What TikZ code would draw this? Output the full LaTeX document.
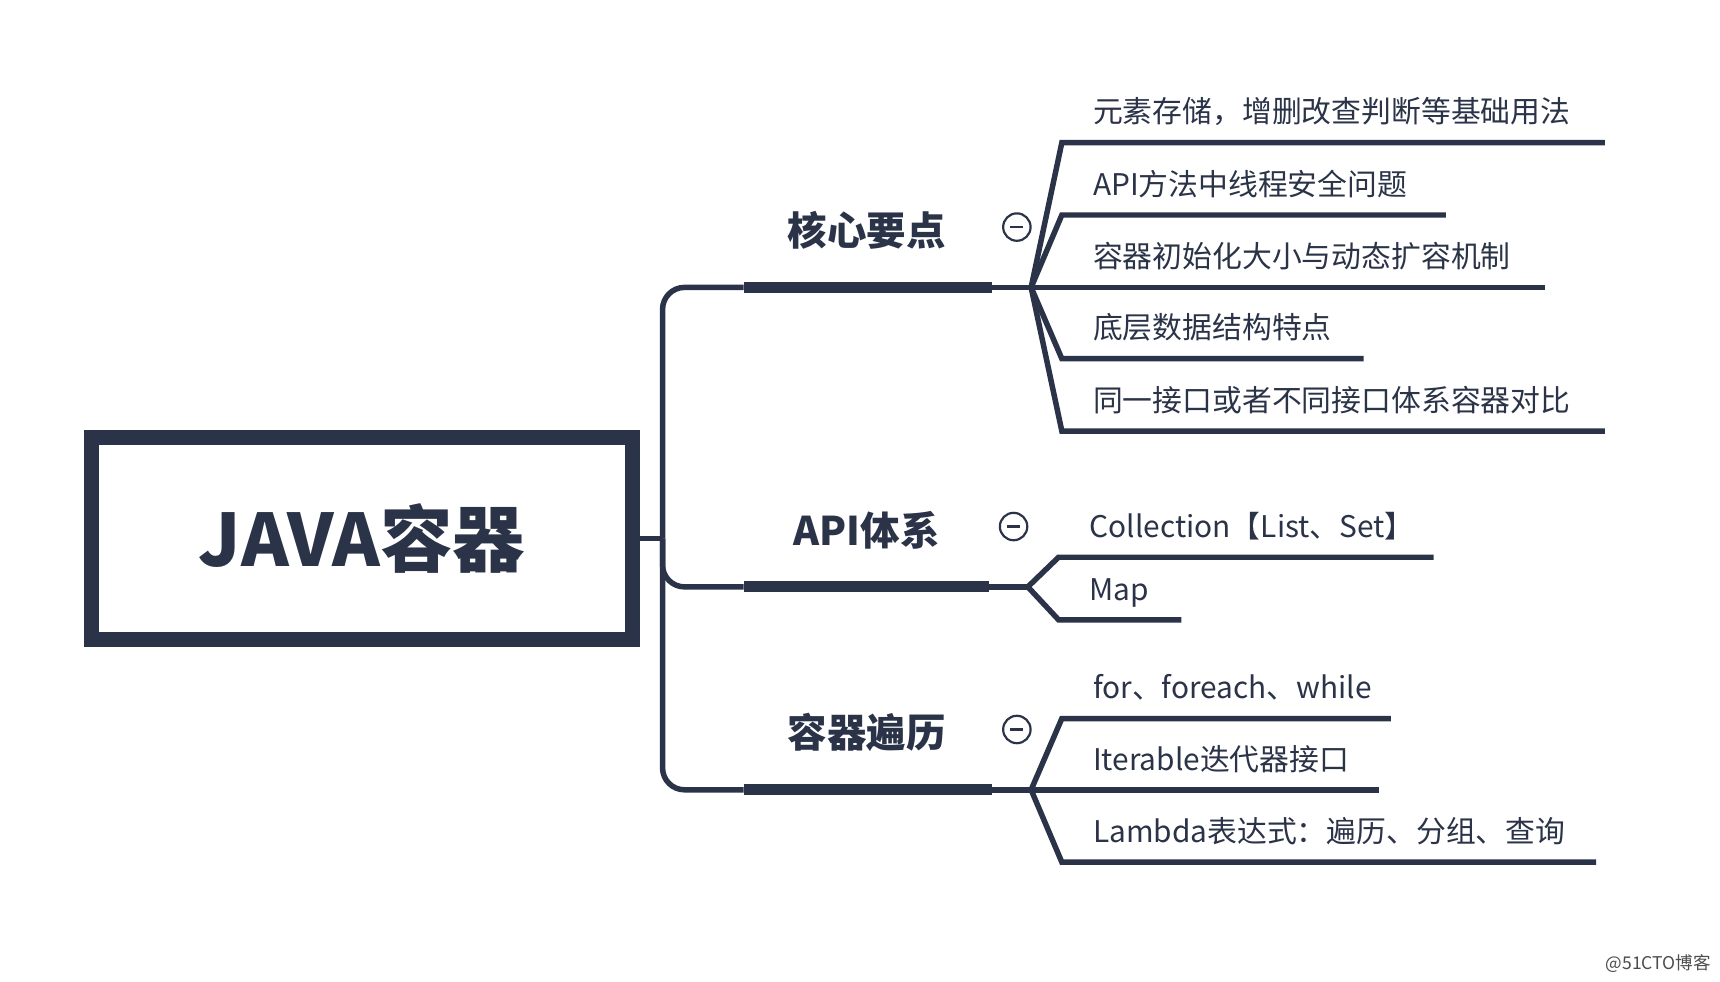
\documentclass[tikz,border=0pt]{standalone}
\usepackage{fontspec}
\setmainfont{Noto Sans CJK SC}
\usetikzlibrary{positioning}
\definecolor{navy}{HTML}{2A3347}
\tikzset{
  leafline/.style={draw=navy,line width=2.5pt},
  leaftext/.style={anchor=base west,inner sep=0pt,font=\fontsize{13.6}{16}\selectfont,text=navy},
  branchbar/.style={draw=navy,line width=5pt},
  branchtext/.style={inner sep=0pt,font=\bfseries\fontsize{18}{20}\selectfont,text=navy},
  fold/.style={circle,draw=navy,line width=1pt,minimum size=12.5pt,inner sep=0pt}
}
\begin{document}
\begin{tikzpicture}[x=0.5pt,y=-0.5pt]
    \useasboundingbox (0,0) rectangle (1568,895);

    % main box
    \node[draw=navy,line width=7pt,minimum width=493*0.5pt,minimum height=184*0.5pt,
          font=\bfseries\fontsize{33}{36}\selectfont,text=navy] (root) at (330,491) {JAVA容器};
    \coordinate (trunk) at (604,491);
    \draw[leafline] (root.east) -- (trunk);

    % branches
    \foreach \name/\y/\x/\len/\cx/\txt in {core/262/904/940/927/核心要点, api/535/902/937/924/API体系, loop/720/904/940/927/容器遍历}{
        \coordinate (\name-s) at (678,\y);
        \coordinate (\name-e) at (\x,\y);
        \coordinate (\name-f) at (\len,\y);
        \draw[leafline,rounded corners=20*0.5pt] (trunk) -- (604,\y) -- (\name-s);
        \draw[branchbar] (\name-s) -- (\name-e);
        \draw[leafline] (\name-e) -- (\name-f);
        \node[branchtext] (\name) at (790,\y-52) {\txt};
        \node[fold] (\name-m) at (\cx,\y-55) {};
        \draw[navy,line width=1pt] ([xshift=-3pt]\name-m.center) -- ([xshift=3pt]\name-m.center);
    }

    % leaves of core
    \foreach \i/\y/\e/\txt in {1/130/1463/元素存储，增删改查判断等基础用法,
                               2/196/1318/API方法中线程安全问题,
                               3/262/1408/容器初始化大小与动态扩容机制,
                               4/327/1243/底层数据结构特点,
                               5/393/1463/同一接口或者不同接口体系容器对比}{
        \coordinate (core-\i) at (968,\y);
        \coordinate (core-\i-end) at (\e,\y);
        \draw[leafline] (core-f) -- (core-\i) -- (core-\i-end);
        \node[leaftext] (core-\i-t) at (996,\y-18) {\txt};
    }

    % leaves of api
    \foreach \i/\y/\e/\txt in {1/508/1307/Collection【List、Set】, 2/565/1077/Map}{
        \coordinate (api-\i) at (965,\y);
        \coordinate (api-\i-end) at (\e,\y);
        \draw[leafline] (api-f) -- (api-\i) -- (api-\i-end);
        \node[leaftext] (api-\i-t) at (993,\y-18) {\txt};
    }

    % leaves of loop
    \foreach \i/\y/\e/\txt in {1/655/1268/for、foreach、while,
                               2/720/1257/Iterable迭代器接口,
                               3/786/1455/Lambda表达式：遍历、分组、查询}{
        \coordinate (loop-\i) at (968,\y);
        \coordinate (loop-\i-end) at (\e,\y);
        \draw[leafline] (loop-f) -- (loop-\i) -- (loop-\i-end);
        \node[leaftext] (loop-\i-t) at (996,\y-18) {\txt};
    }

    \node[anchor=east,inner sep=0pt,font=\fontsize{8}{9}\selectfont,text=black!70] (mark) at (1560,878) {@51CTO博客};
\end{tikzpicture}
\end{document}
